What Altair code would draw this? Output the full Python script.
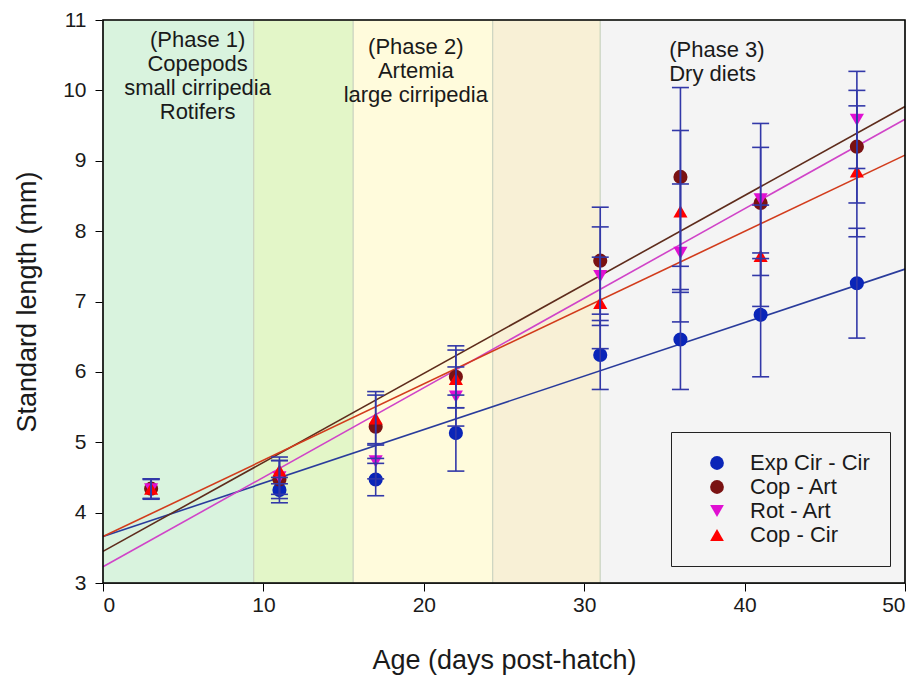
import altair as alt
import pandas as pd

# Sampling days (days post-hatch)
days = [3, 11, 17, 22, 31, 36, 41, 47]

series_names = ["Exp Cir - Cir", "Cop - Art", "Rot - Art", "Cop - Cir"]

# Mean standard length (mm) per treatment; None = not sampled
exp_cir_mean = [None, 4.32, 4.47, 5.13, 6.24, 6.46, 6.81, 7.26]
cop_art_mean = [4.34, 4.47, 5.22, 5.93, 7.58, 8.77, 8.40, 9.20]
rot_art_mean = [4.33, 4.50, 4.73, 5.65, 7.36, 7.69, 8.45, 9.58]
cop_cir_mean = [4.34, 4.60, 5.34, 5.90, 6.98, 8.28, 7.65, 8.85]

# Standard deviations (mm)
exp_cir_sd = [None, 0.18, 0.23, 0.54, 0.49, 0.71, 0.88, 0.78]
cop_art_sd = [0.14, 0.27, 0.45, 0.44, 0.76, 1.27, 0.79, 0.80]
rot_art_sd = [0.14, 0.24, 0.25, 0.42, 0.70, 0.98, 1.08, 0.69]
cop_cir_sd = [0.14, 0.19, 0.38, 0.41, 0.65, 1.15, 0.72, 0.93]

# Linear growth fits: predicted length at day 0 and day 50
fit_day0 = [3.66, 3.45, 3.23, 3.66]
fit_day50 = [7.46, 9.77, 9.59, 9.08]

# Feeding phases (boundaries in days)
phase_edges = [0, 9.4, 15.6, 24.3, 31.0, 50]
phase_fill = ["#d9f3de", "#e3f6c8", "#fffbdc", "#f8f0d6", "#f4f4f4"]

marker_colors = ["#0a25b8", "#7a1212", "#e010d2", "#ff0000"]
marker_shapes = ["circle", "circle", "triangle-down", "triangle-up"]
line_colors = ["#2a3c9c", "#5e2c1c", "#d044c8", "#d23c1c"]
bar_color = "#3238a8"

means = [exp_cir_mean, cop_art_mean, rot_art_mean, cop_cir_mean]
sds = [exp_cir_sd, cop_art_sd, rot_art_sd, cop_cir_sd]

rows = []
for name, m_list, s_list in zip(series_names, means, sds):
    for d, m, s in zip(days, m_list, s_list):
        if m is None:
            continue
        rows.append({"series": name, "day": d, "mean": m,
                     "lo": round(m - s, 3), "hi": round(m + s, 3)})
points = pd.DataFrame(rows)

fit_rows = []
for name, a, b, c in zip(series_names, fit_day0, fit_day50, line_colors):
    fit_rows.append({"fit": name, "day": 0, "len": a, "lc": c})
    fit_rows.append({"fit": name, "day": 50, "len": b, "lc": c})
fits = pd.DataFrame(fit_rows)

bands = pd.DataFrame({
    "x0": phase_edges[:-1],
    "x1": phase_edges[1:],
    "fill": phase_fill,
})

notes_center = pd.DataFrame([
    {"x": 5.9, "y": 10.86, "txt": ["(Phase 1)", "Copepods", "small cirripedia", "Rotifers"]},
    {"x": 19.5, "y": 10.76, "txt": ["(Phase 2)", "Artemia", "large cirripedia"]},
])
notes_left = pd.DataFrame([
    {"x": 35.3, "y": 10.71, "txt": ["(Phase 3)", "Dry diets"]},
])

xscale = alt.Scale(domain=[0, 50], nice=False, zero=False)
yscale = alt.Scale(domain=[3, 11], nice=False, zero=False)

xaxis = alt.Axis(values=[0, 10, 20, 30, 40, 50], title="Age (days post-hatch)",
                 grid=False, tickSize=8, labelFontSize=21, titleFontSize=27,
                 titlePadding=32, labelPadding=3, domainColor="black",
                 tickColor="black", labelColor="#1a1a1a", titleColor="#1a1a1a",
                 titleFontWeight="normal", format="d")
yaxis = alt.Axis(values=list(range(3, 12)), title="Standard length (mm)",
                 grid=False, tickSize=8, labelFontSize=21, titleFontSize=27,
                 titlePadding=21, labelPadding=9, domainColor="black",
                 tickColor="black", labelColor="#1a1a1a", titleColor="#1a1a1a",
                 titleFontWeight="normal", format="d")

band_layer = alt.Chart(bands).mark_rect(stroke="#c9d3bf", strokeWidth=1).encode(
    x=alt.X("x0:Q", scale=xscale, axis=xaxis),
    x2="x1:Q",
    y=alt.Y("y0:Q", scale=yscale, axis=yaxis),
    y2="y1:Q",
    fill=alt.Fill("fill:N", scale=None),
).transform_calculate(y0="3", y1="11")

note_c = alt.Chart(notes_center).mark_text(
    fontSize=22, lineHeight=24, baseline="top", align="center", color="#1a1a1a"
).encode(x=alt.X("x:Q", scale=xscale), y=alt.Y("y:Q", scale=yscale), text="txt")

note_l = alt.Chart(notes_left).mark_text(
    fontSize=22, lineHeight=24, baseline="top", align="left", color="#1a1a1a"
).encode(x=alt.X("x:Q", scale=xscale), y=alt.Y("y:Q", scale=yscale), text="txt")

fit_layer = alt.Chart(fits).mark_line(strokeWidth=1.6).encode(
    x=alt.X("day:Q", scale=xscale),
    y=alt.Y("len:Q", scale=yscale),
    detail="fit:N",
    stroke=alt.Stroke("lc:N", scale=None),
)

legend = alt.Legend(title=None, orient="none", legendX=568, legendY=412,
                    fillColor="#f4f4f4", strokeColor="#222",
                    padding=20, symbolOffset=15, labelOffset=22,
                    labelFontSize=22, labelColor="#1a1a1a",
                    symbolSize=190, rowPadding=2,
                    symbolStrokeWidth=0, labelLimit=300)

point_layer = alt.Chart(points).mark_point(filled=True, size=200, opacity=1).encode(
    x=alt.X("day:Q", scale=xscale),
    y=alt.Y("mean:Q", scale=yscale),
    color=alt.Color("series:N",
                    scale=alt.Scale(domain=series_names, range=marker_colors),
                    legend=legend),
    shape=alt.Shape("series:N",
                    scale=alt.Scale(domain=series_names, range=marker_shapes),
                    legend=legend),
)

bar_layer = alt.Chart(points).mark_rule(color=bar_color, strokeWidth=1.6).encode(
    x=alt.X("day:Q", scale=xscale),
    y=alt.Y("lo:Q", scale=yscale),
    y2="hi:Q",
)
cap_lo = alt.Chart(points).mark_tick(orient="horizontal", size=17, thickness=1.6,
                                     color=bar_color, opacity=1).encode(
    x=alt.X("day:Q", scale=xscale),
    y=alt.Y("lo:Q", scale=yscale),
)
cap_hi = alt.Chart(points).mark_tick(orient="horizontal", size=17, thickness=1.6,
                                     color=bar_color, opacity=1).encode(
    x=alt.X("day:Q", scale=xscale),
    y=alt.Y("hi:Q", scale=yscale),
)

frame = alt.Chart(pd.DataFrame({"a": [0]})).mark_rect(
    fillOpacity=0, stroke="black", strokeWidth=1.6
).encode(
    x=alt.datum(0, scale=xscale), x2=alt.datum(50),
    y=alt.datum(3, scale=yscale), y2=alt.datum(11),
)

chart = alt.layer(
    band_layer, note_c, note_l, fit_layer, point_layer, bar_layer, cap_lo, cap_hi, frame
).properties(
    width=802, height=563,
    autosize=alt.AutoSizeParams(type="none"),
    padding={"left": 103, "top": 20, "right": 14, "bottom": 95},
    background="white",
).configure(
    font="Arial, Liberation Sans, sans-serif"
).configure_view(stroke=None)

chart.save("out.html", embed_options={"renderer": "svg", "actions": False})
